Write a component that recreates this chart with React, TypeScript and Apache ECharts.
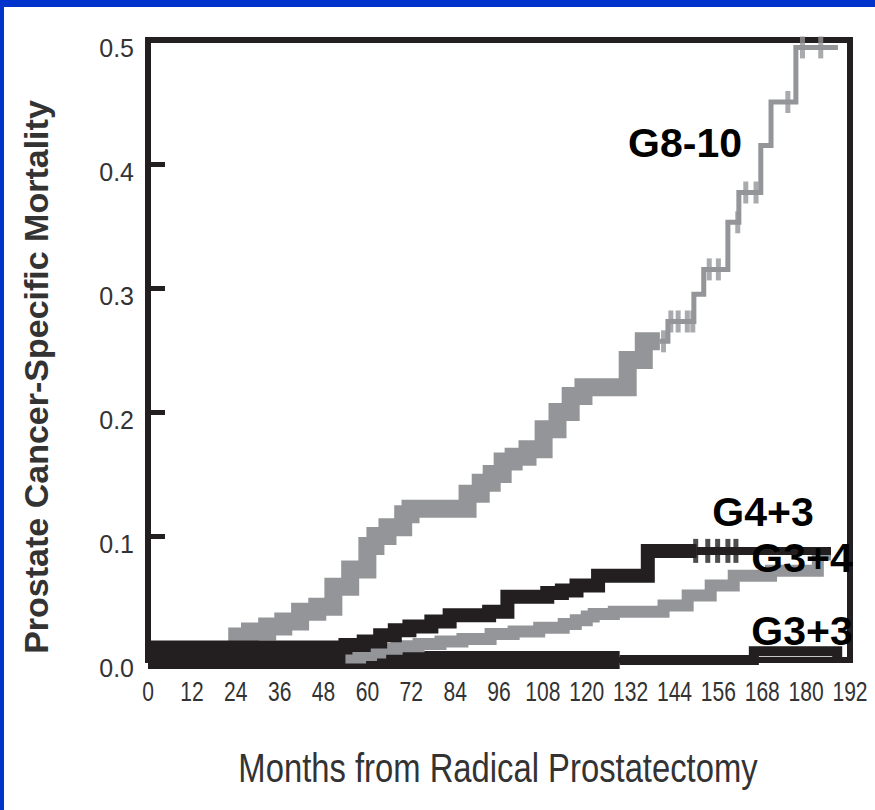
import React, { useEffect, useRef } from "react";
import * as echarts from "echarts";

// Axis ticks
const monthTicks = [0, 12, 24, 36, 48, 60, 72, 84, 96, 108, 120, 132, 144, 156, 168, 180, 192];
const mortalityTicks = [0, 0.1, 0.2, 0.3, 0.4, 0.5];

// G8-10 (grey) – dense early part
const g810EarlyMonths = [0, 24.4, 27.9, 32.6, 37, 41.6, 46.3, 50.7, 55.3, 60, 62.2, 65.5, 69.8, 71.8, 87.4, 91, 94, 97, 100, 103.8, 108.2, 112, 115.6, 119.1, 131.2, 135.6, 140];
const g810EarlyValues = [0.004, 0.019, 0.023, 0.027, 0.031, 0.039, 0.043, 0.059, 0.073, 0.092, 0.1, 0.107, 0.1175, 0.122, 0.134, 0.143, 0.15, 0.16, 0.164, 0.17, 0.186, 0.2, 0.213, 0.22, 0.242, 0.257, 0.257];
// G8-10 – later part
const g810LateMonths = [140, 142.2, 149.3, 152, 158.6, 161.6, 167.6, 170.4, 177.2, 188.7];
const g810LateValues = [0.257, 0.273, 0.295, 0.315, 0.353, 0.377, 0.415, 0.45, 0.494, 0.494];
const g810CensorMonths = [141, 143, 145, 147.5, 149, 153.5, 156, 161.3, 163.5, 166.3, 175, 179, 184];

// G4+3 (black)
const g43EarlyMonths = [0, 54, 59, 63.5, 67.5, 71.5, 77.5, 82.5, 93.3, 98.3, 109.2, 113.2, 117.2, 123.1, 136.7, 150];
const g43EarlyValues = [0.01, 0.012, 0.015, 0.02, 0.024, 0.027, 0.031, 0.036, 0.039, 0.051, 0.054, 0.056, 0.06, 0.068, 0.088, 0.088];
const g43LateMonths = [150, 186.8];
const g43LateValues = [0.088, 0.088];
const g43CensorMonths = [149.8, 153.1, 155.8, 158.6, 160.8];

// G3+4 (grey)
const g34Months = [54, 58, 61, 63.5, 68, 74, 80, 86, 93.7, 100, 107, 113.7, 117, 120, 121.9, 127.4, 141, 147.6, 153.9, 160.2, 170.4, 183.2, 186.8];
const g34Values = [0.002, 0.004, 0.006, 0.009, 0.011, 0.013, 0.015, 0.017, 0.021, 0.023, 0.026, 0.029, 0.032, 0.035, 0.037, 0.039, 0.044, 0.052, 0.06, 0.068, 0.072, 0.085, 0.085];

// G3+3 (black)
const g33EarlyMonths = [0, 129];
const g33EarlyValues = [0, 0];
const g33LateMonths = [129, 165.7, 188.5];
const g33LateValues = [0, 0.007, 0.002];

const GREY = "#939598";
const BLACK = "#231f20";
const TEXT = "#333333";
const FONT = '"Liberation Sans", Arial, sans-serif';

const zip = (xs: number[], ys: number[]) => xs.map((x, i) => [x, ys[i]]);
const stepAt = (xs: number[], ys: number[], m: number) => {
  let v = ys[0];
  for (let i = 0; i < xs.length; i++) if (xs[i] <= m) v = ys[i];
  return v;
};

const stepLine = (name: string, xs: number[], ys: number[], color: string, width: number) => ({
  name,
  type: "line",
  step: "end",
  data: zip(xs, ys),
  symbol: "none",
  showSymbol: false,
  silent: true,
  lineStyle: { color, width, cap: "butt", join: "miter" },
});

export default function App() {
  const ref = useRef<HTMLDivElement>(null);
  useEffect(() => {
    if (!ref.current) return;
    const chart = echarts.init(ref.current, undefined, { renderer: "svg" });
    const allG810M = [...g810EarlyMonths, ...g810LateMonths];
    const allG810V = [...g810EarlyValues, ...g810LateValues];
    const baseGraphics: any[] = [
      { id: "blueTop", type: "rect", shape: { x: 0, y: 0, width: 875, height: 7 }, style: { fill: "#0033cc" } },
      { id: "blueLeft", type: "rect", shape: { x: 0, y: 0, width: 4, height: 810 }, style: { fill: "#0033cc" } },
      {
        id: "yTitle",
        type: "text",
        x: 36,
        y: 377,
        rotation: Math.PI / 2,
        style: {
          text: "Prostate Cancer-Specific Mortality",
          fontSize: 34,
          fontWeight: "bold",
          fontFamily: FONT,
          fill: "#333333",
          align: "center",
          verticalAlign: "middle",
        },
      },
      {
        id: "xTitle",
        type: "text",
        x: 498,
        y: 768,
        scaleX: 0.82,
        style: {
          text: "Months from Radical Prostatectomy",
          fontSize: 40,
          fontFamily: FONT,
          fill: "#333333",
          align: "center",
          verticalAlign: "middle",
        },
      },
      ...[
        { t: "G8-10", x: 685, y: 143 },
        { t: "G4+3", x: 763, y: 512 },
        { t: "G3+4", x: 802, y: 558 },
        { t: "G3+3", x: 802, y: 631 },
      ].map((l) => ({
        id: "lab" + l.t,
        type: "text",
        x: l.x,
        y: l.y,
        z: 100,
        style: {
          text: l.t,
          fontSize: 41,
          fontWeight: "bold",
          fontFamily: FONT,
          fill: "#000000",
          align: "center",
          verticalAlign: "middle",
        },
      })),
    ];
    const option: any = {
      animation: false,
      backgroundColor: "#ffffff",
      grid: {
        left: 148,
        right: 25,
        top: 40,
        bottom: 150,
        show: true,
        borderColor: BLACK,
        borderWidth: 6,
        backgroundColor: "transparent",
      },
      xAxis: {
        type: "value",
        min: monthTicks[0],
        max: monthTicks[monthTicks.length - 1],
        interval: 12,
        axisLine: { show: false },
        axisTick: { show: false },
        splitLine: { show: false },
        axisLabel: { show: false },
      },
      yAxis: {
        type: "value",
        min: mortalityTicks[0],
        max: mortalityTicks[mortalityTicks.length - 1],
        interval: 0.1,
        axisLine: { show: false },
        axisTick: { show: true, inside: true, length: 17, lineStyle: { width: 5, color: BLACK } },
        splitLine: { show: false },
        axisLabel: {
          formatter: (v: number) => v.toFixed(1),
          fontSize: 25,
          margin: 14,
          color: TEXT,
          fontFamily: FONT,
          verticalAlign: "top",
          lineHeight: 16,
        },
      },
      series: [
        stepLine("G8-10", g810EarlyMonths, g810EarlyValues, GREY, 18),
        stepLine("G8-10 late", g810LateMonths, g810LateValues, GREY, 5),
        {
          type: "scatter",
          silent: true,
          symbol: "rect",
          symbolSize: [5, 22],
          itemStyle: { color: GREY },
          data: g810CensorMonths.map((m) => [m, stepAt(allG810M, allG810V, m)]),
        },
        stepLine("G3+3", g33EarlyMonths, g33EarlyValues, BLACK, 18),
        stepLine("G3+3 late", g33LateMonths, g33LateValues, BLACK, 10),
        stepLine("G3+4", g34Months, g34Values, GREY, 12),
        stepLine("G4+3", g43EarlyMonths, g43EarlyValues, BLACK, 14),
        stepLine("G4+3 late", g43LateMonths, g43LateValues, BLACK, 8),
        {
          type: "scatter",
          silent: true,
          symbol: "rect",
          symbolSize: [5, 24],
          itemStyle: { color: BLACK },
          data: g43CensorMonths.map((m) => [m, stepAt(g43LateMonths, g43LateValues, m)]),
        },
      ],
      graphic: baseGraphics,
    };
    chart.setOption(option);
    // x tick labels in a condensed face, placed through the axis scale
    const zeroY = chart.convertToPixel({ yAxisIndex: 0 }, 0) as number;
    const tickLabels = monthTicks.map((m) => ({
      id: "xt" + m,
      type: "text",
      x: chart.convertToPixel({ xAxisIndex: 0 }, m) as number,
      y: zeroY + 32,
      scaleX: 0.78,
      style: {
        text: String(m),
        fontSize: 27,
        fontFamily: FONT,
        fill: TEXT,
        align: "center",
        verticalAlign: "middle",
      },
    }));
    chart.setOption({ graphic: [...baseGraphics, ...tickLabels] });
    return () => chart.dispose();
  }, []);
  return (
    <div
      ref={ref}
      style={{ position: "absolute", left: 0, top: 0, width: 875, height: 810, background: "#fff" }}
    />
  );
}
